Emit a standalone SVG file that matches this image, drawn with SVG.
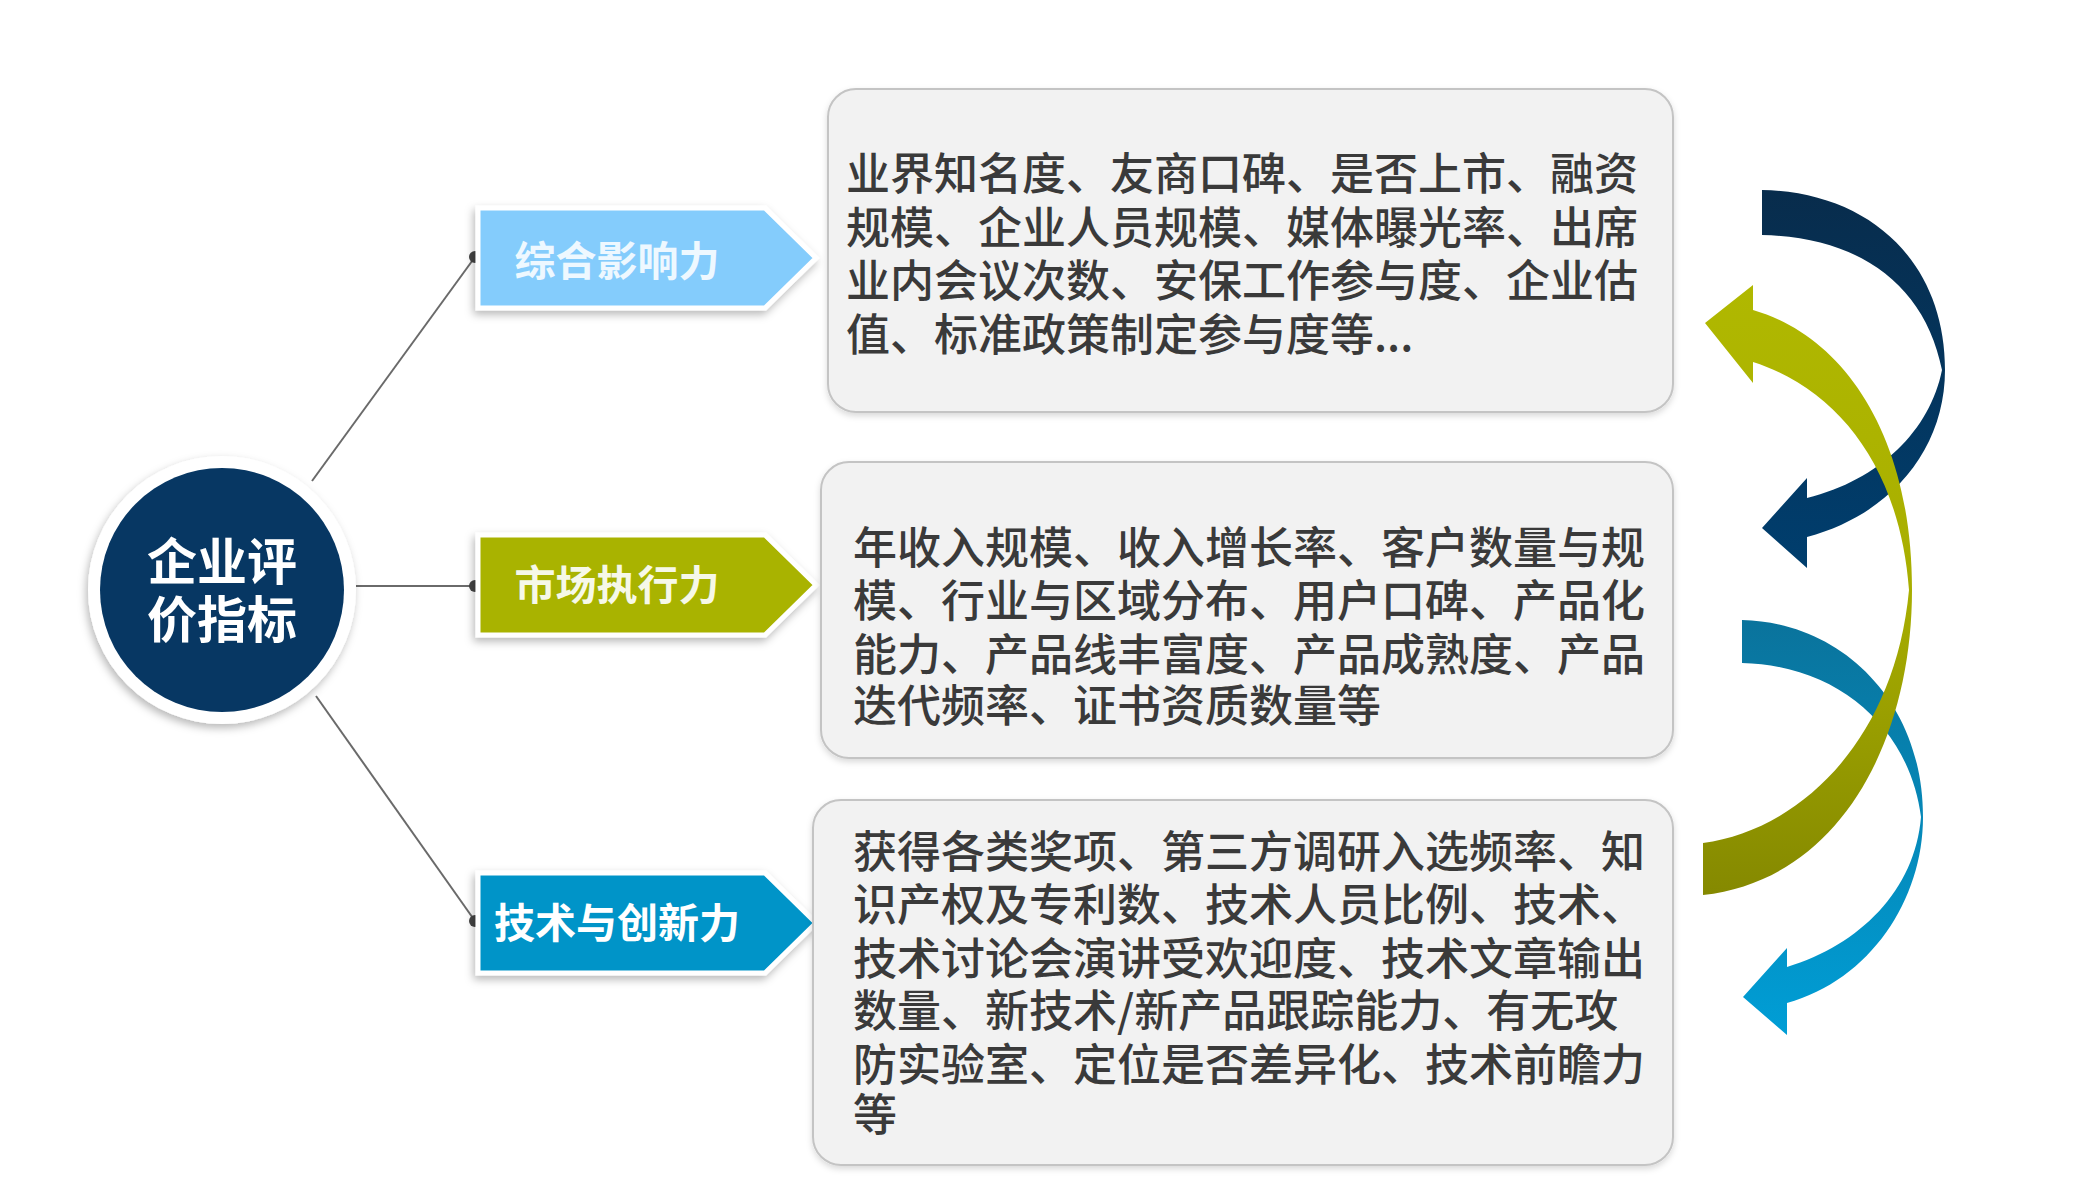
<svg xmlns="http://www.w3.org/2000/svg" width="2099" height="1204" viewBox="0 0 2099 1204">
<defs>
<style>
.box{fill:#f2f2f2;stroke:#c4c4c4;stroke-width:2}
.txt{font-family:"Noto Sans CJK SC","Noto Sans CJK JP",sans-serif;font-size:44px;font-weight:500;fill:#3a3a3a}
.tagtxt{font-family:"Noto Sans CJK SC","Noto Sans CJK JP",sans-serif;font-size:41px;font-weight:bold;text-anchor:middle}
.ctr{font-family:"Noto Sans CJK SC","Noto Sans CJK JP",sans-serif;font-size:50px;font-weight:bold;text-anchor:middle;fill:#ffffff}
.tag{stroke:#ffffff;stroke-width:5;stroke-linejoin:miter}
.conn{stroke:#6a6a6a;stroke-width:2;fill:none}
.dot{fill:#444444}
</style>
<filter id="sh" x="-20%" y="-20%" width="140%" height="150%">
<feDropShadow dx="-2" dy="4" stdDeviation="4" flood-color="#000" flood-opacity="0.28"/>
</filter>
<filter id="sh2" x="-10%" y="-10%" width="120%" height="130%">
<feDropShadow dx="0" dy="3" stdDeviation="3" flood-color="#000" flood-opacity="0.15"/>
</filter>
<linearGradient id="gNavy" x1="0" y1="190" x2="0" y2="568" gradientUnits="userSpaceOnUse">
<stop offset="0" stop-color="#082c4c"/>
<stop offset="1" stop-color="#003e6e"/>
</linearGradient>
<linearGradient id="gOlive" x1="0" y1="285" x2="0" y2="895" gradientUnits="userSpaceOnUse">
<stop offset="0" stop-color="#b0b800"/>
<stop offset="0.5" stop-color="#a8ae00"/>
<stop offset="1" stop-color="#858900"/>
</linearGradient>
<linearGradient id="gCyan" x1="0" y1="620" x2="0" y2="1035" gradientUnits="userSpaceOnUse">
<stop offset="0" stop-color="#0a739c"/>
<stop offset="1" stop-color="#009ed6"/>
</linearGradient>
</defs>
<rect x="0" y="0" width="2099" height="1204" fill="#ffffff"/>

<g id="connectors">
<line class="conn" x1="312" y1="481" x2="475" y2="257"/>
<line class="conn" x1="356" y1="586" x2="475" y2="586"/>
<line class="conn" x1="316" y1="696" x2="475" y2="921"/>
<circle class="dot" cx="475" cy="257" r="6"/>
<circle class="dot" cx="475" cy="586" r="6"/>
<circle class="dot" cx="475" cy="921" r="6"/>
</g>

<g id="center">
<circle cx="222" cy="590" r="134" fill="#ffffff" filter="url(#sh)"/>
<circle cx="222" cy="590" r="122" fill="#073763"/>
<text class="ctr" x="222" y="580">企业评</text>
<text class="ctr" x="222" y="638">价指标</text>
</g>

<g id="tag1">
<polygon class="tag" points="478,208 765,208 816,258 765,308 478,308" fill="#84ccfc" filter="url(#sh)"/>
<text class="tagtxt" x="617" y="276" fill="#eef8ff">综合影响力</text>
</g>
<g id="tag2">
<polygon class="tag" points="478,535 765,535 816,585 765,635 478,635" fill="#a9b300" filter="url(#sh)"/>
<text class="tagtxt" x="617" y="600" fill="#f6f8e8">市场执行力</text>
</g>
<g id="tag3">
<polygon class="tag" points="478,873 765,873 816,923 765,973 478,973" fill="#0094c8" filter="url(#sh)"/>
<text class="tagtxt" x="617" y="938" fill="#ffffff">技术与创新力</text>
</g>

<g id="box1">
<rect class="box" x="828" y="89" width="845" height="323" rx="28" filter="url(#sh2)"/>
<text class="txt" x="846" y="190">业界知名度、友商口碑、是否上市、融资</text>
<text class="txt" x="846" y="244">规模、企业人员规模、媒体曝光率、出席</text>
<text class="txt" x="846" y="297">业内会议次数、安保工作参与度、企业估</text>
<text class="txt" x="846" y="351">值、标准政策制定参与度等...</text>
</g>
<g id="box2">
<rect class="box" x="821" y="462" width="852" height="296" rx="28" filter="url(#sh2)"/>
<text class="txt" x="853" y="564">年收入规模、收入增长率、客户数量与规</text>
<text class="txt" x="853" y="617">模、行业与区域分布、用户口碑、产品化</text>
<text class="txt" x="853" y="671">能力、产品线丰富度、产品成熟度、产品</text>
<text class="txt" x="853" y="722">迭代频率、证书资质数量等</text>
</g>
<g id="box3">
<rect class="box" x="813" y="800" width="860" height="365" rx="28" filter="url(#sh2)"/>
<text class="txt" x="853" y="868">获得各类奖项、第三方调研入选频率、知</text>
<text class="txt" x="853" y="921">识产权及专利数、技术人员比例、技术、</text>
<text class="txt" x="853" y="975">技术讨论会演讲受欢迎度、技术文章输出</text>
<text class="txt" x="853" y="1027">数量、新技术/新产品跟踪能力、有无攻</text>
<text class="txt" x="853" y="1081">防实验室、定位是否差异化、技术前瞻力</text>
<text class="txt" x="853" y="1131">等</text>
</g>

<g id="cycle-arrows">
<path fill="url(#gNavy)" d="M1762 190 C1870 192 1945 262 1945 370 C1945 450 1890 515 1807 537 L1807 568 L1762 528 L1807 478 L1807 498 C1880 480 1930 430 1942 370 C1925 285 1860 237 1762 235 Z"/>
<path fill="url(#gCyan)" d="M1742 620 C1840 622 1923 700 1923 817 C1923 900 1870 980 1787 1003 L1787 1035 L1743 997 L1787 948 L1787 967 C1860 945 1915 890 1921 817 C1910 730 1840 665 1742 663 Z"/>
<path fill="url(#gOlive)" d="M1753 310 C1840 335 1912 430 1912 590 C1912 740 1840 880 1703 895 L1703 843 C1800 830 1895 740 1909 590 C1900 470 1840 390 1753 362 L1753 383 L1705 323 L1753 285 Z"/>
</g>
</svg>
